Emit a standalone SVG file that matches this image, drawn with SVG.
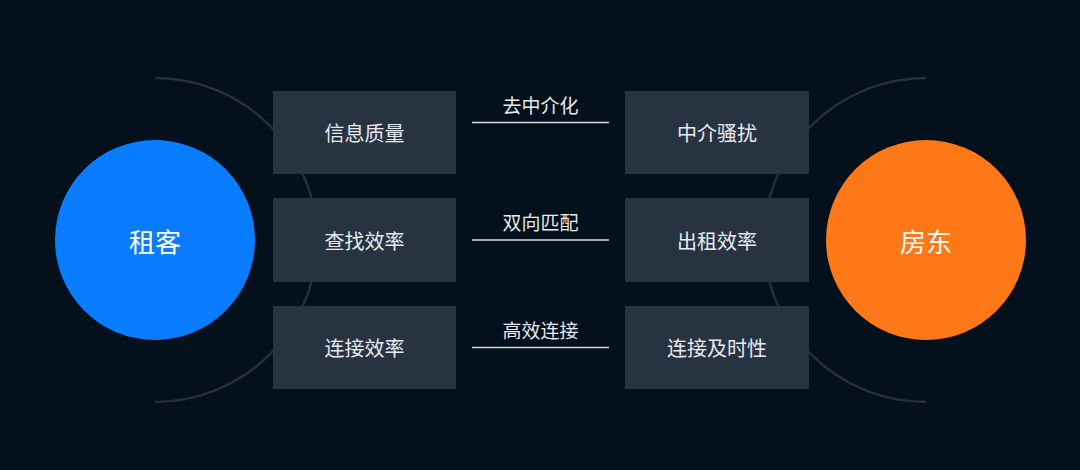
<svg xmlns="http://www.w3.org/2000/svg" width="1080" height="470" viewBox="0 0 1080 470">
<style>
.bg{fill:#04101b}
.arc{fill:none;stroke:#262f3a;stroke-width:2.5}
.box{fill:#283341}
.bt{font-family:"Noto Sans CJK SC","Noto Sans",sans-serif;font-size:20px;fill:#e6eaef;text-anchor:middle;dominant-baseline:central}
.ct{font-family:"Noto Sans CJK SC","Noto Sans",sans-serif;font-size:26px;fill:#ffffff;text-anchor:middle;dominant-baseline:central}
.ln{stroke:#d5dae0;stroke-width:1.6}
.lt{font-family:"Noto Sans CJK SC","Noto Sans",sans-serif;font-size:19px;fill:#e6eaef;text-anchor:middle}
</style>
<rect class="bg" x="0" y="0" width="1080" height="470"/>
<g id="arcs">
<path class="arc" d="M155,78 A162,162 0 0 1 155,402"/>
<path class="arc" d="M926,78 A162,162 0 0 0 926,402"/>
</g>
<g id="tenant"><circle cx="155" cy="240" r="100" fill="#0a7cff"/><text class="ct" x="155" y="240">租客</text></g>
<g id="landlord"><circle cx="926" cy="240" r="100" fill="#ff7818"/><text class="ct" x="926" y="240">房东</text></g>
<g id="l1"><rect class="box" x="273" y="91" width="183" height="83"/><text class="bt" x="364.5" y="132.5">信息质量</text></g>
<g id="l2"><rect class="box" x="273" y="198" width="183" height="84"/><text class="bt" x="364.5" y="240">查找效率</text></g>
<g id="l3"><rect class="box" x="273" y="306" width="183" height="83"/><text class="bt" x="364.5" y="347.5">连接效率</text></g>
<g id="r1"><rect class="box" x="625" y="91" width="184" height="83"/><text class="bt" x="717" y="132.5">中介骚扰</text></g>
<g id="r2"><rect class="box" x="625" y="198" width="184" height="84"/><text class="bt" x="717" y="240">出租效率</text></g>
<g id="r3"><rect class="box" x="625" y="306" width="184" height="83"/><text class="bt" x="717" y="347.5">连接及时性</text></g>
<g id="connectors">
<line class="ln" x1="472" y1="122.5" x2="609" y2="122.5"/>
<line class="ln" x1="472" y1="240" x2="609" y2="240"/>
<line class="ln" x1="472" y1="347.5" x2="609" y2="347.5"/>
<text class="lt" x="540.5" y="113">去中介化</text>
<text class="lt" x="540.5" y="230">双向匹配</text>
<text class="lt" x="540.5" y="338">高效连接</text>
</g>
</svg>
